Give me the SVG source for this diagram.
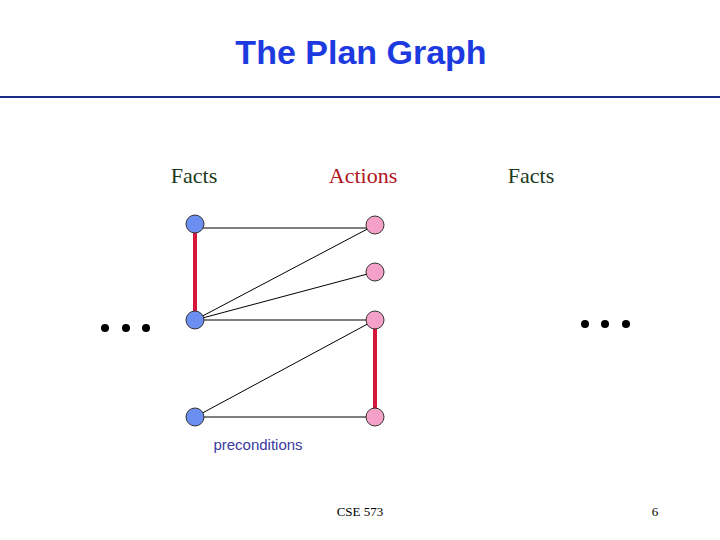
<svg xmlns="http://www.w3.org/2000/svg" width="720" height="540" viewBox="0 0 720 540">
<style>
.f{fill:#6b8ff0;stroke:#333;stroke-width:1}
.a{fill:#f5a0c8;stroke:#333;stroke-width:1}
.e{stroke:#000;stroke-width:1}
.m{stroke:#d8163c;stroke-width:4}
.h{font-family:"Liberation Serif",serif;font-size:22px}
</style>
<rect width="720" height="540" fill="#fff"/>
<text x="361" y="64" text-anchor="middle" font-family="Liberation Sans,sans-serif" font-weight="bold" font-size="34" fill="#1c3ae0">The Plan Graph</text>
<line x1="0" y1="97" x2="720" y2="97" stroke="#1c2a8a" stroke-width="2"/>
<text class="h" x="194" y="183" text-anchor="middle" fill="#1a3a1a">Facts</text>
<text class="h" x="363" y="183" text-anchor="middle" fill="#b0141c">Actions</text>
<text class="h" x="531" y="183" text-anchor="middle" fill="#1a3a1a">Facts</text>
<g id="connectors">
<line class="m" x1="195" y1="225" x2="195" y2="320"/>
<line class="m" x1="375" y1="320" x2="375" y2="417"/>
<line class="e" x1="195" y1="228" x2="375" y2="228"/>
<line class="e" x1="195" y1="320" x2="375" y2="225"/>
<line class="e" x1="195" y1="320" x2="375" y2="272"/>
<line class="e" x1="195" y1="320" x2="375" y2="320"/>
<line class="e" x1="195" y1="417" x2="375" y2="320"/>
<line class="e" x1="195" y1="417" x2="375" y2="417"/>
</g>
<g id="f1"><circle class="f" cx="195" cy="224" r="9"/></g>
<g id="f2"><circle class="f" cx="195" cy="320" r="9"/></g>
<g id="f3"><circle class="f" cx="195" cy="417" r="9"/></g>
<g id="a1"><circle class="a" cx="375" cy="225" r="9"/></g>
<g id="a2"><circle class="a" cx="375" cy="272" r="9"/></g>
<g id="a3"><circle class="a" cx="375" cy="320" r="9"/></g>
<g id="a4"><circle class="a" cx="375" cy="417" r="9"/></g>
<g id="dotsL" fill="#000"><circle cx="105" cy="328" r="4"/><circle cx="126" cy="328" r="4"/><circle cx="146" cy="328" r="4"/></g>
<g id="dotsR" fill="#000"><circle cx="585" cy="324" r="4"/><circle cx="605" cy="324" r="4"/><circle cx="626" cy="324" r="4"/></g>
<text x="258" y="450" text-anchor="middle" font-family="Liberation Sans,sans-serif" font-size="15" fill="#3a3aa0">preconditions</text>
<text x="360" y="516" text-anchor="middle" font-family="Liberation Serif,serif" font-size="13">CSE 573</text>
<text x="655" y="516" text-anchor="middle" font-family="Liberation Serif,serif" font-size="13">6</text>
</svg>
